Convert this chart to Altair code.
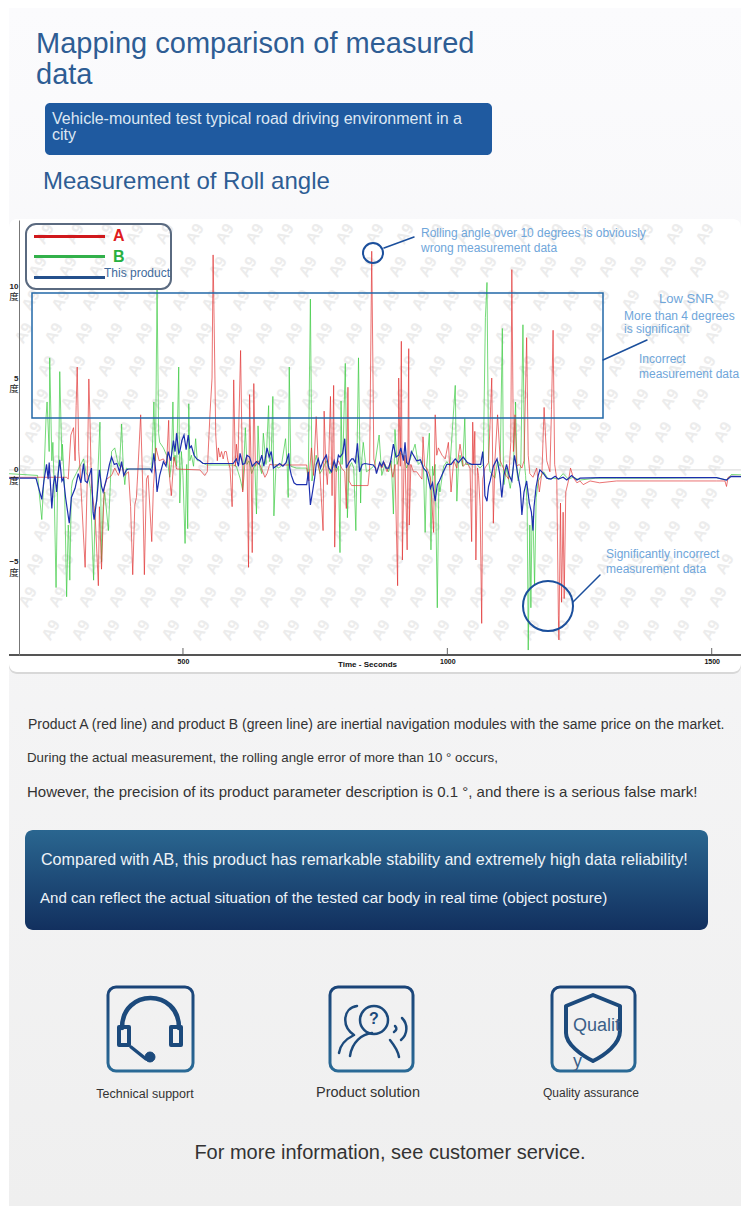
import altair as alt
import pandas as pd

# ---------- data (seconds, degrees) ----------
red_t = [169,230,280,283,288,293,296,298,300,303,305,315,319,322,324,327,334,340,342,346,351,356,365,371,378,384,390,397,401,405,409,412,415,420,424,427,431,434,441,444,449,455,463,469,473,475,478,483,488,532,541,546,551,555,557,559,562,565,567,570,573,576,579,582,585,589,593,596,599,601,604,609,613,617,621,624,626,629,631,634,637,642,648,655,659,664,671,734,738,743,747,752,756,759,765,767,770,773,776,779,782,785,787,790,794,800,806,809,812,814,819,850,853,857,861,866,872,876,881,886,892,897,901,906,908,911,913,915,918,920,924,927,928,931,936,942,947,952,954,957,961,968,974,977,980,983,990,996,1002,1007,1012,1018,1024,1030,1037,1043,1046,1048,1050,1052,1054,1057,1059,1062,1065,1067,1071,1078,1084,1087,1090,1095,1100,1106,1111,1116,1120,1122,1125,1128,1131,1136,1141,1145,1150,1153,1156,1162,1169,1174,1179,1183,1188,1191,1194,1197,1200,1203,1207,1210,1211,1214,1216,1219,1221,1224,1229,1233,1238,1245,1251,1257,1270,1288,1320,1383,1446,1509,1525,1528,1531,1537,1558]
red_deg = [-.4,-.4,-.4,-.5,1.9,2.3,.5,3.5,5.6,1,.2,-5.3,-.5,4.95,2.9,-1,-2.5,-6.3,-2,-5.4,-1,-.5,-.3,.1,-.3,.3,-.3,-.1,-2,-5.7,-1.9,-1.5,.1,3,-1,-5.7,-.5,-.3,-3.9,-1,1.2,.5,.6,.3,2.7,-.5,-1.4,.7,.05,0,-.3,-.1,3,5,11.7,8,1.9,.5,1.2,.7,1,.6,1,1,.5,.1,-2,4.9,.2,1.4,.5,6.5,-1.2,.3,.8,-5.3,4.1,.1,-4.5,4.7,.2,.5,.1,-.4,-.2,.3,.27,.27,-.6,1.2,-.3,2.9,.2,-.1,-3.3,3.2,.3,-.8,.9,4,-1.4,4.6,-4.2,.2,.5,.1,-.1,-2.1,4.5,-.6,-.85,-.85,.1,11.9,.6,-.1,.3,.1,.4,-.1,.4,-.4,.3,-6.3,5,.2,7,-4.9,.2,.8,-4.35,6.6,-3,.3,-.1,-.1,-.3,-.5,1.8,.2,.1,-.4,-3.4,3,.8,1.2,.8,.6,1.5,-1.2,.5,.1,1.4,.2,.4,.1,-3.9,2.6,.3,2.1,-4.9,.1,-.3,-2,-8.35,-.5,.1,.4,5,-2.9,.5,3,.5,.1,-.3,-.5,1.5,10.9,1,3,.2,.3,.1,.5,7.2,.8,-.2,-.4,.1,-1.2,-.1,3.4,.5,.2,-.1,3.3,7.6,.3,-.5,-7.9,-9.25,-1.8,-7.2,-2.3,-7,-1.2,-.6,.1,-.4,-.7,-.6,-.8,-.6,-.7,-.6,-.6,-.6,-.6,-.6,-.9,-.4,-.35,-.35]

green_t = [169,225,233,237,241,243,247,248,252,254,256,260,263,265,267,271,272,276,280,283,284,286,289,291,298,305,312,317,321,325,331,334,337,343,346,349,352,359,363,365,371,376,380,384,387,390,393,397,438,441,445,448,451,454,456,463,469,475,478,481,483,485,488,492,494,497,500,504,507,509,511,513,516,520,524,527,532,535,545,595,601,608,613,618,621,625,630,636,639,642,645,649,652,657,662,664,667,670,672,676,680,686,694,697,699,701,704,715,734,737,741,744,748,752,759,765,771,778,784,790,794,797,799,801,803,807,811,814,819,823,827,832,836,838,841,847,857,863,871,876,882,889,894,898,901,905,911,917,923,930,939,945,952,955,958,961,966,969,972,974,977,981,984,986,993,999,1005,1015,1018,1021,1024,1029,1033,1035,1046,1056,1062,1068,1072,1075,1078,1081,1090,1095,1100,1104,1106,1107,1112,1119,1125,1129,1132,1134,1139,1143,1146,1148,1151,1153,1156,1158,1160,1162,1165,1168,1172,1182,1191,1201,1210,1219,1229,1238,1251,1280,1320,1400,1509,1528,1537,1558]
green_deg = [-.2,-.3,-2.7,-.5,2.8,3.7,1,6.1,.5,1.5,-.5,-6.4,-.6,.3,5.35,.5,1.4,-.9,-6.9,-3,-3.4,-6,-1,-.6,-.2,.2,.6,-.2,-.3,-1,-6,-2,-1.7,2.6,-5,-2,-1.2,-3.3,-.5,1,1.2,.5,.2,2.5,.2,-.8,.1,.05,.05,.1,3.7,.5,9.9,2,1.5,1.2,.8,-.4,.3,3.7,.5,.8,.2,5.6,-1.8,1,-.3,-4,.3,-3.2,3.6,.5,.8,.2,1.7,.5,.5,.4,.27,.27,.2,-.45,-1.1,2.3,.3,.5,-.2,.3,-2.4,2.4,.2,-.2,2,.3,3.5,.45,.8,4,-2.5,.3,.1,.2,1.7,.3,-1.5,5.6,.2,.1,.1,-.5,9.3,-.6,.2,.8,-.2,.1,.5,-.2,.45,-.1,.2,-4.5,3.75,.3,1.2,5.8,-2.6,.1,.4,.1,-3.3,6.1,-1.8,.5,1.5,-.1,.1,.3,1.9,-.3,.3,-.1,.5,-2.4,2.2,.3,.9,.8,.1,.6,1.4,.3,.5,.1,-3.4,.2,2,-4.35,.2,-.3,.3,-7.5,-.7,-1.2,.2,.45,.2,4.6,-1.7,.3,.8,.2,2.8,.3,.3,.3,.1,.3,8.3,10.2,.5,-.1,-.45,.5,.2,7.7,.3,-.8,.1,-1,.2,3.7,-.2,-.6,.3,7.9,.3,-.3,-2,-9.8,-3,-7.5,-3,-2.5,-6.3,-1.5,-.6,-.1,-.5,-.45,-.5,-.2,-.5,-.4,-.55,-.45,-.45,-.45,-.42,-.55,-.25,-.27]

blue_t = [169,222,233,237,242,245,247,252,255,258,261,264,267,271,274,278,282,285,289,296,302,307,312,315,319,324,327,330,332,337,342,346,349,356,361,365,370,375,380,384,388,393,397,438,441,445,449,451,456,463,468,472,477,482,485,488,492,494,498,502,506,510,513,516,521,526,532,538,595,601,605,608,613,617,621,626,631,639,644,649,653,659,663,667,671,676,683,689,695,700,702,705,710,715,734,737,740,741,745,749,752,756,760,765,771,776,781,786,790,794,797,802,806,809,814,819,822,826,830,834,839,844,860,864,866,872,876,879,884,889,893,898,903,908,912,917,920,923,927,932,936,942,949,955,961,968,972,977,981,985,991,999,1007,1015,1021,1030,1038,1046,1056,1063,1067,1070,1071,1075,1078,1081,1087,1094,1099,1103,1107,1112,1117,1122,1127,1133,1138,1141,1145,1150,1155,1159,1162,1164,1168,1172,1175,1182,1188,1196,1204,1210,1219,1226,1235,1245,1251,1290,1400,1509,1528,1537,1558]
blue_deg = [-.45,-.45,-1.6,-.6,.3,-.5,.4,-2.1,-.8,-.3,-1.2,-.2,.55,-.6,-.45,-1.5,-2.3,-2.9,-1.5,-1,-.2,-.7,.35,-.6,-.7,-.2,.1,-2.3,-2.7,-1.6,0,-.9,-1.2,-.4,.3,.7,.3,.35,-.1,.45,-.3,0,.05,.05,-.1,.9,-.2,-1.2,-.3,.45,.2,1,.5,1.6,1,2,.9,1,1.6,1.9,1.1,1.9,1.2,1.3,.8,.6,.5,.35,.35,.6,.2,.9,.3,.35,.8,.7,.2,.45,.3,.8,.2,1.2,.7,1,.1,.2,.35,.2,.4,.9,.1,-.3,-.7,-.8,-.8,-.1,-1.4,-1.9,-1.2,-.45,.3,.6,.1,.5,.8,.1,-.1,.5,.1,.8,.7,.9,1.7,.1,.4,.6,.6,.4,1.45,-.1,.3,.35,.27,.1,-.2,.4,.2,.45,.1,.1,.5,1.4,.7,.8,1.2,.5,1.5,.4,.3,1,.8,.5,.55,.1,-.1,-1,-.7,-1.7,-.8,-.6,-.2,.3,.3,.6,.4,.7,.4,.3,.3,.3,1,-.5,-1.4,-1.7,-.9,-.6,.2,.6,-.2,-1.5,-.3,.3,-.3,-.6,.8,-.2,-1,-2.45,-1.2,-.6,-1.8,-2.3,-3.3,-2,-.9,-.3,0,-.2,-.45,-.5,-.35,-.5,-.4,-.55,-.3,-.55,-.45,-.42,-.42,-.42,-.55,-.35,-.37]

x_ticks = [500, 1000, 1500]
y_ticks = [-5, 0, 5, 10]
x_domain = [171, 1555.4]
y_domain = [-10.07, 13.6]

W, H1, H2, H3 = 732, 212, 435, 551
OX = 9
LIGHT = "#6fa6da"
DARK = "#2e5d94"
LINE = "#1b4f9c"
FONT = "Liberation Sans"
one = alt.Data(values=[{"a": 0}])


def text(panel_top, x, y, s, size, color="#333333", align="left", weight="normal", **kw):
    return alt.Chart(one).mark_text(
        text=s, fontSize=size, color=color, align=align, baseline="middle",
        font=FONT, fontWeight=weight, **kw
    ).encode(x=alt.value(x - OX), y=alt.value(y - panel_top))


def box(panel_top, x0, y0, x1, y1, **kw):
    return alt.Chart(one).mark_rect(**kw).encode(
        x=alt.value(x0 - OX), x2=alt.value(x1 - OX),
        y=alt.value(y0 - panel_top), y2=alt.value(y1 - panel_top),
    )


def glyph(panel_top, cx, cy, path, color, width, fill=None):
    opts = dict(shape=path, size=4, opacity=1, stroke=color, strokeWidth=width,
                strokeCap="round", strokeJoin="round")
    if fill:
        opts.update(filled=True, fill=fill)
    else:
        opts.update(filled=False)
    return alt.Chart(one).mark_point(**opts).encode(
        x=alt.value(cx - OX), y=alt.value(cy - panel_top))


def vgrad(c0, c1):
    return alt.Gradient(gradient="linear", x1=0, y1=0, x2=0, y2=1,
                        stops=[alt.GradientStop(color=c0, offset=0),
                               alt.GradientStop(color=c1, offset=1)])


# ---------- header panel ----------
T1 = 8
head = [
    box(T1, 9, 8, 741, 1206, fill=vgrad("#fbfbfd", "#efefef")),
    text(T1, 36, 44, "Mapping comparison of measured", 29, DARK),
    text(T1, 36, 75, "data", 29, DARK),
    box(T1, 45, 103, 492, 155, fill="#1f5aa0", cornerRadius=5),
    text(T1, 52, 119, "Vehicle-mounted test typical road driving environment in a", 16, "#dde7f3"),
    text(T1, 52, 135, "city", 16, "#dde7f3"),
    text(T1, 43, 182, "Measurement of Roll angle", 24, DARK),
]
top_panel = alt.layer(*head).properties(width=W, height=H1)

# ---------- chart panel ----------
T2 = 220
xs = alt.Scale(domain=x_domain, nice=False, zero=False)
ys = alt.Scale(domain=y_domain, nice=False, zero=False)


def series(ts, ds, color, width, opacity):
    df = pd.DataFrame({"t": ts, "deg": ds})
    return alt.Chart(df).mark_line(
        color=color, strokeWidth=width, opacity=opacity, clip=True, interpolate="linear"
    ).encode(
        x=alt.X("t:Q", scale=xs, axis=alt.Axis(
            values=x_ticks, title="Time - Seconds", grid=False, zindex=1, format="d",
            domain=False, tickSize=0, labelPadding=2,
            labelFont=FONT, labelFontWeight="bold", labelFontSize=7, labelColor="#111111",
            titleFont=FONT, titleFontWeight="bold", titleFontSize=8, titleColor="#111111",
            titleX=358, titleY=5, labelFlush=False)),
        y=alt.Y("deg:Q", scale=ys, axis=alt.Axis(
            values=y_ticks, title=None, grid=False, zindex=1, offset=-10,
            domainColor="#777777", domainWidth=1, tickSize=0, labelPadding=1,
            labelFont=FONT, labelFontWeight="bold", labelFontSize=8,
            labelColor="#222222", labelBaseline="middle")),
    )


wm_t, wm_deg = [], []
for j in range(-1, 15):
    for i in range(-1, 28):
        px = i * 30 - j * 7 + 6
        py = j * 33 + 14
        if 14 <= px <= W - 14 and 14 <= py <= H2 + 5:
            wm_t.append(x_domain[0] + px / 0.5287)
            wm_deg.append(y_domain[1] - py / 18.37)
watermark = alt.Chart(pd.DataFrame({"t": wm_t, "deg": wm_deg})).mark_text(
    text="A9", angle=300, fontSize=16, fontWeight="bold", font=FONT, color="#ececec"
).encode(x=alt.X("t:Q", scale=xs), y=alt.Y("deg:Q", scale=ys))

unit_labels = alt.Chart(pd.DataFrame({"deg": y_ticks})).mark_text(
    text="度", font="Noto Sans CJK SC", fontSize=9.5, color="#222222", dy=11, align="center"
).encode(x=alt.value(5), y=alt.Y("deg:Q", scale=ys))

zero_rule = alt.Chart(pd.DataFrame({"deg": [0]})).mark_rule(
    color="#d6d6d6", strokeWidth=1
).encode(y=alt.Y("deg:Q", scale=ys))
tick_rules = alt.Chart(pd.DataFrame({"t": x_ticks})).mark_rule(
    color="#666666", strokeWidth=1
).encode(x=alt.X("t:Q", scale=xs), y=alt.value(H2 - 7), y2=alt.value(H2))

panel2 = [
    box(T2, 9, 221, 741, 674, fill="#d8d8d8", cornerRadius=8),
    box(T2, 9, 219, 741, 672, fill="#ffffff", cornerRadius=8),
    watermark,
    zero_rule,
    tick_rules,
    box(T2, 9, 654, 741, 656, fill="#555555"),
    series(green_t, green_deg, "#35c83c", 0.8, 0.85),
    series(red_t, red_deg, "#e02f2f", 0.8, 0.85),
    series(blue_t, blue_deg, "#1c2fae", 1.2, 1),
    unit_labels,
    # annotation frames and call-outs
    box(T2, 32, 293, 603, 418, fill="transparent", stroke="#2268a8", strokeWidth=1.5),
    box(T2, 26, 224, 171, 289, fill="transparent", stroke="#5a6a80", strokeWidth=2, cornerRadius=10),
    box(T2, 34, 235, 105, 238, fill="#d0181c"),
    box(T2, 34, 255, 105, 258, fill="#32b04a"),
    box(T2, 34, 276, 105, 279, fill="#24508c"),
    text(T2, 113, 236, "A", 16, "#e01c20", weight="bold"),
    text(T2, 113, 257, "B", 16, "#28b040", weight="bold"),
    text(T2, 104, 273, "This product", 12, "#3f6a9c"),
    glyph(T2, 373, 253, "M-10,0 A10,10 0 1 1 10,0 A10,10 0 1 1 -10,0 Z", LINE, 2),
    glyph(T2, 548, 606, "M-25,0 A25,25 0 1 1 25,0 A25,25 0 1 1 -25,0 Z", LINE, 2),
    glyph(T2, 384, 248, "M0,0 L30,-11", LINE, 1.5),
    glyph(T2, 603, 360, "M0,0 L44,-20", LINE, 1.5),
    glyph(T2, 573, 602, "M0,0 L27,-27", LINE, 1.5),
    text(T2, 421, 233, "Rolling angle over 10 degrees is obviously", 12, LIGHT),
    text(T2, 421, 248, "wrong measurement data", 12, LIGHT),
    text(T2, 659, 299, "Low SNR", 13, LIGHT),
    text(T2, 624, 316, "More than 4 degrees", 12, LIGHT),
    text(T2, 624, 329, "is significant", 12, LIGHT),
    text(T2, 639, 359, "Incorrect", 12, LIGHT),
    text(T2, 639, 374, "measurement data", 12, LIGHT),
    text(T2, 606, 554, "Significantly incorrect", 12, LIGHT),
    text(T2, 606, 569, "measurement data", 12, LIGHT),
]
chart_panel = alt.layer(*panel2).properties(width=W, height=H2)

# ---------- lower panel ----------
T3 = 655
ICON = "#1c4a7c"
frame_grad = vgrad("#1a4478", "#2a6a96")
low = [
    text(T3, 28, 725, "Product A (red line) and product B (green line) are inertial navigation modules with the same price on the market.", 14),
    text(T3, 27, 758, "During the actual measurement, the rolling angle error of more than 10 ° occurs,", 13.3),
    text(T3, 27, 792, "However, the precision of its product parameter description is 0.1 °, and there is a serious false mark!", 15),
    box(T3, 25, 830, 708, 930, fill=vgrad("#2a6690", "#12305f"), cornerRadius=8),
    text(T3, 41, 860, "Compared with AB, this product has remarkable stability and extremely high data reliability!", 16.1, "#eef3f8"),
    text(T3, 40, 898, "And can reflect the actual situation of the tested car body in real time (object posture)", 15.1, "#eef3f8"),
    box(T3, 108, 987, 193, 1071, fill="transparent", stroke=frame_grad, strokeWidth=3, cornerRadius=8),
    box(T3, 330, 987, 413, 1071, fill="transparent", stroke=frame_grad, strokeWidth=3, cornerRadius=8),
    box(T3, 552, 987, 635, 1071, fill="transparent", stroke=frame_grad, strokeWidth=3, cornerRadius=8),
    # headset
    glyph(T3, 150, 1028, "M-28,0 C-28,-40 29,-40 29,0", ICON, 4.5),
    glyph(T3, 150, 1028, "M-31,-1 H-21 V17 H-31 Z", ICON, 4),
    glyph(T3, 150, 1028, "M21,-1 H31 V17 H21 Z", ICON, 4),
    glyph(T3, 150, 1028, "M-19,19 L-4,31", ICON, 3.5),
    glyph(T3, 150, 1028, "M-5,29 A5,5 0 1 1 5,29 A5,5 0 1 1 -5,29 Z", ICON, 1, fill=ICON),
    # people with question mark
    glyph(T3, 372, 1028, "M-12,-8 A14,14 0 1 1 16,-8 A14,14 0 1 1 -12,-8 Z", ICON, 2.5),
    glyph(T3, 372, 1028, "M-22,28 C-20,14 -10,6 0,5", ICON, 2.5),
    glyph(T3, 372, 1028, "M18,12 C22,17 26,23 27,29", ICON, 2.5),
    glyph(T3, 372, 1028, "M-15,-22 C-29,-20 -31,-2 -18,7 C-26,11 -32,17 -33,25", ICON, 2.5),
    glyph(T3, 372, 1028, "M23,-2 C25,0 25,2 22,4", ICON, 2.5),
    glyph(T3, 372, 1028, "M30,-10 C36,-4 36,6 29,12", ICON, 2.5),
    text(T3, 374, 1019, "?", 16, ICON, align="center", weight="bold"),
    # shield
    glyph(T3, 593, 1028, "M0,-33 L27,-22 V3 C27,16 12,27 0,33 C-12,27 -27,16 -27,5 V-22 Z", ICON, 4),
    text(T3, 573, 1026, "Qualit", 18, "#3a5f88"),
    text(T3, 573, 1062, "y", 18, "#3a5f88"),
    text(T3, 145, 1094, "Technical support", 12.5, align="center"),
    text(T3, 368, 1093, "Product solution", 14.5, align="center"),
    text(T3, 591, 1093, "Quality assurance", 12, align="center"),
    text(T3, 390, 1153, "For more information, see customer service.", 20, align="center"),
]
low_panel = alt.layer(*low).properties(width=W, height=H3)

chart = alt.vconcat(top_panel, chart_panel, low_panel, spacing=0, bounds="flush").properties(
    padding=0, background="white"
).configure_view(stroke=None)

chart.save("out.html", embed_options={"renderer": "svg", "actions": False})
